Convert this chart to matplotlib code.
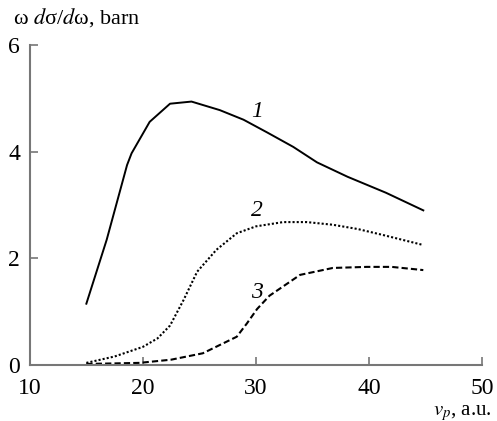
import matplotlib
matplotlib.use("Agg")
import matplotlib.pyplot as plt

plt.rcParams['font.family'] = ['Liberation Serif', 'DejaVu Serif']
plt.rcParams['mathtext.fontset'] = 'stix'

# curve 1: solid
v1 = [15, 16.8, 18.6, 19.0, 20.6, 22.4, 24.3, 26.8, 28.9, 31.0, 33.3, 35.4, 38.1, 41.5, 44.8]
s1 = [1.15, 2.35, 3.75, 3.97, 4.56, 4.9, 4.94, 4.78, 4.6, 4.36, 4.09, 3.8, 3.53, 3.23, 2.9]
# curve 2: dotted
v2 = [15, 17.5, 20.0, 21.3, 22.4, 23.6, 24.8, 26.5, 28.3, 30.0, 32.4, 34.5, 36.8, 39.0, 41.2, 44.8]
s2 = [0.04, 0.16, 0.34, 0.5, 0.74, 1.22, 1.75, 2.16, 2.47, 2.6, 2.68, 2.68, 2.63, 2.55, 2.44, 2.25]
# curve 3: dashed
v3 = [15, 17.5, 19.7, 22.5, 25.3, 28.3, 29.2, 30.1, 31.2, 33.9, 36.8, 39.8, 42.0, 44.8]
s3 = [0.02, 0.03, 0.04, 0.1, 0.22, 0.53, 0.78, 1.05, 1.3, 1.69, 1.82, 1.84, 1.84, 1.78]

fig = plt.figure(figsize=(4.97, 4.21), dpi=100)
ax = fig.add_axes([0.060, 0.133, 0.910, 0.760])

ax.plot(v1, s1, color='black', lw=1.4, ls='-')
ax.plot(v2, s2, color='black', lw=1.5, ls=(0, (1, 1)))
ax.plot(v3, s3, color='black', lw=1.5, ls=(0, (3, 1.5)))

ax.text(30.1, 4.75, '1', style='italic', fontsize=17, ha='center', va='center')
ax.text(30.1, 2.9, '2', style='italic', fontsize=17, ha='center', va='center')
ax.text(30.1, 1.36, '3', style='italic', fontsize=17, ha='center', va='center')

ax.set_xlim(10, 50)
ax.set_ylim(0, 6)
ax.set_xticks([10, 20, 30, 40, 50])
ax.set_yticks([0, 2, 4, 6])
for side in ['top', 'right']:
    ax.spines[side].set_visible(False)
for side in ['left', 'bottom']:
    ax.spines[side].set_color('#777777')
    ax.spines[side].set_linewidth(1.5)
ax.tick_params(direction='in', length=6, width=1.2, color='#777777', labelsize=17)
ax.tick_params(axis='x', pad=9)
ax.tick_params(axis='y', pad=7)

fig.text(0.026, 0.958, r'ω $d$σ/$d$ω, barn', fontsize=16, ha='left', va='center')
fig.text(0.990, 0.020, r'$v_p$, a.u.', fontsize=15, ha='right', va='center')

fig.savefig('out.png', dpi=100)
